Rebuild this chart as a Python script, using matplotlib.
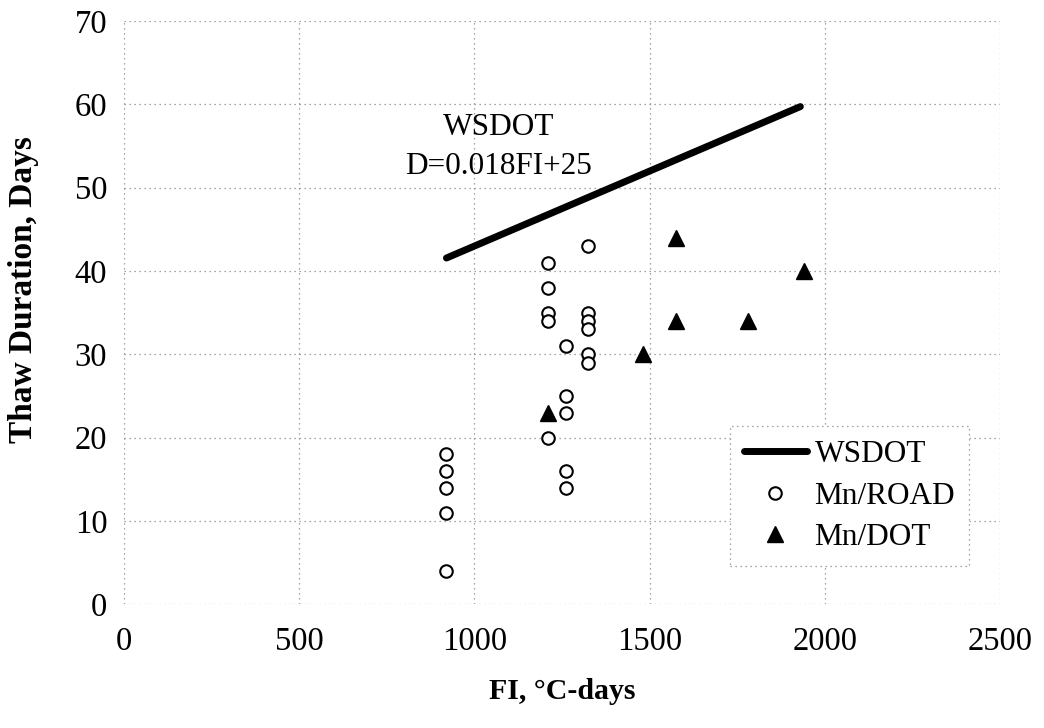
import numpy as np
import matplotlib
matplotlib.use("Agg")
import matplotlib.pyplot as plt

# WSDOT relation D = 0.018 FI + 25, drawn between its end points
wsdot_fi = [920, 1930]
wsdot_d = [0.018 * f + 25 for f in wsdot_fi]

# Mn/ROAD observations
road_fi = [920, 920, 920, 920, 920,
           1210, 1210, 1210, 1210, 1210,
           1260, 1260, 1260, 1260, 1260,
           1325, 1325, 1325, 1325, 1325, 1325]
road_d = [18, 16, 14, 11, 4,
          41, 38, 35, 34, 20,
          31, 25, 23, 16, 14,
          43, 35, 34, 33, 30, 29]

# Mn/DOT observations
dot_fi = [1210, 1480, 1575, 1575, 1780, 1940]
dot_d = [23, 30, 44, 34, 34, 40]

xticks = [0, 500, 1000, 1500, 2000, 2500]
yticks = [0, 10, 20, 30, 40, 50, 60, 70]

plt.rcParams['font.family'] = ['Liberation Serif', 'DejaVu Serif']

fig = plt.figure(figsize=(10.44, 7.28), dpi=100)
ax = fig.add_axes([0.1188, 0.170, 0.8392, 0.801])

ax.plot(wsdot_fi, wsdot_d, color='black', lw=5, solid_capstyle='round',
        label='WSDOT', zorder=3)
ax.plot(road_fi, road_d, linestyle='none', marker='o', ms=9,
        mfc='white', mec='black', mew=1.5, label='Mn/ROAD', zorder=4)
ax.plot(dot_fi, dot_d, linestyle='none', marker='^', ms=11,
        color='black', label='Mn/DOT', zorder=4)

ax.text(1069, 54.9, 'WSDOT\nD=0.018FI+25', ha='center', va='center',
        fontsize=22.5, linespacing=1.45)

ax.set_xlim(0, 2500)
ax.set_ylim(0, 70)
ax.set_xticks(xticks)
ax.set_yticks(yticks)
ax.tick_params(length=0, labelsize=23.5)
ax.tick_params(axis='x', pad=16)
ax.tick_params(axis='y', pad=12)
ax.grid(True, color='#888888', linestyle=(0, (1, 3)), lw=0.9)
for s in ax.spines.values():
    s.set_visible(False)

ax.set_xlabel('FI, \u00b0C-days', fontsize=21.5, fontweight='bold', labelpad=15)
ax.set_ylabel('Thaw Duration, Days', fontsize=24, fontweight='bold')
ax.yaxis.set_label_coords(-0.097, 0.54)

leg = ax.legend(loc='lower right', bbox_to_anchor=(0.9646, 0.065),
                borderaxespad=0, fontsize=22.5, handlelength=2.0,
                handletextpad=0.25, borderpad=0.45, labelspacing=0.4,
                fancybox=False, framealpha=1)
leg.get_frame().set_edgecolor('#888888')
leg.get_frame().set_linestyle((0, (1, 3)))
leg.get_frame().set_linewidth(0.9)

fig.savefig('out.png', dpi=100)
